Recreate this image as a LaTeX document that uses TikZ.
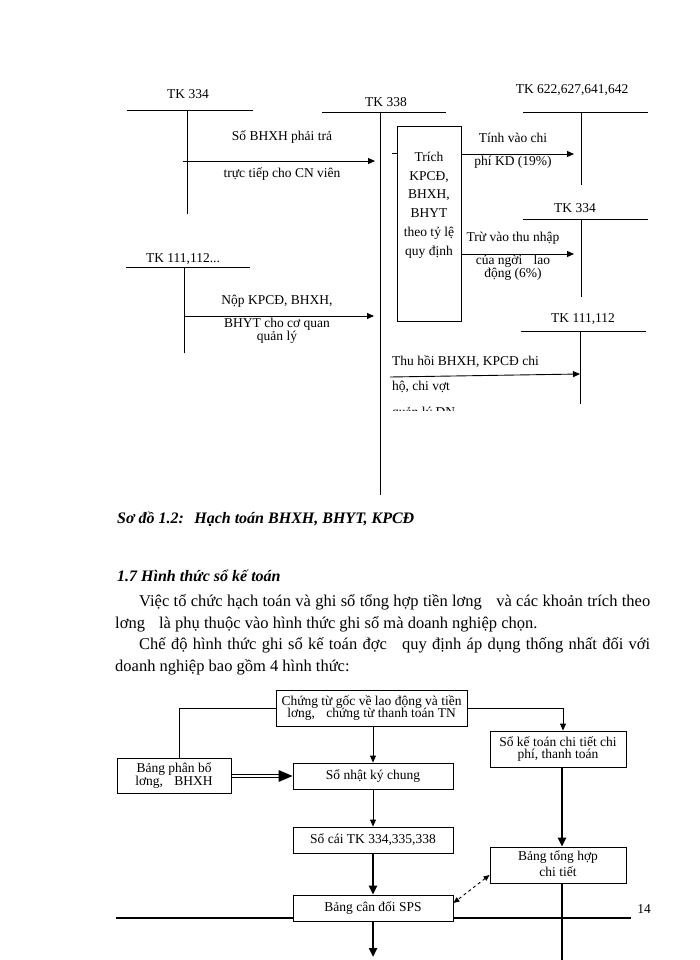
\documentclass[tikz,border=0pt]{standalone}
\usepackage{fontspec}
\setmainfont{Liberation Serif}
\usetikzlibrary{arrows.meta}
\begin{document}
\begin{tikzpicture}[x=1pt,y=-1pt,
  ln/.style={line width=0.9pt},
  tln/.style={line width=2.4pt},
  arr/.style={line width=0.9pt,-{Triangle[length=7pt,width=6pt]}},
  tarr/.style={line width=2.4pt,-{Triangle[length=9pt,width=8pt]}},
  lbl/.style={font=\fontsize{13.5}{12.5}\selectfont, inner sep=0pt, align=center},
  box/.style={draw, line width=0.9pt, fill=white, inner sep=0pt, align=center,
     font=\fontsize{13.5}{12.8}\selectfont},
  body/.style={font=\fontsize{16.5}{20}\selectfont, inner sep=0pt, anchor=base west},
  head/.style={font=\fontsize{16}{20}\selectfont\bfseries\itshape, inner sep=0pt, anchor=base west}
]
\useasboundingbox (0,0) rectangle (700,960);
\fill[white] (0,0) rectangle (700,960);

% ---------------- top diagram ----------------
% TK 334 (left)
\node[lbl] (tka) at (188,94) {TK 334};
\coordinate (a1) at (127,110); \coordinate (a2) at (253,110);
\coordinate (a3) at (187,110); \coordinate (a4) at (187,214);
\draw[ln] (a1) -- (a2); \draw[ln] (a3) -- (a4);
\coordinate (a5) at (183,161); \coordinate (a6) at (375,161);
\draw[arr] (a5) -- (a6);
\node[lbl] (la1) at (282,137) {Số BHXH phải trả};
\node[lbl] (la2) at (282,174) {trực tiếp cho CN viên};

% TK 111,112... (left)
\node[lbl] (tkb) at (183,259) {TK 111,112...};
\coordinate (b1) at (126,267); \coordinate (b2) at (250,267);
\coordinate (b3) at (184,267); \coordinate (b4) at (184,353);
\draw[ln] (b1) -- (b2); \draw[ln] (b3) -- (b4);
\coordinate (b5) at (184,316); \coordinate (b6) at (374,316);
\draw[arr] (b5) -- (b6);
\node[lbl] (lb1) at (277,301) {Nộp KPCĐ, BHXH,};
\node[lbl] (lb2) at (277,331) {BHYT cho cơ quan\\quản lý};

% TK 338
\node[lbl] (tkc) at (386,102) {TK 338};
\coordinate (c1) at (322,112); \coordinate (c2) at (446,112);
\coordinate (c3) at (380,112); \coordinate (c4) at (380,495);
\draw[ln] (c1) -- (c2); \draw[ln] (c3) -- (c4);

% box Trich
\node[draw, line width=0.9pt, minimum width=64pt, minimum height=195pt, inner sep=0pt] (trich) at (429,223.5) {};
\node[lbl, font=\fontsize{13.5}{18.8}\selectfont] (trichtxt) at (429,205) {Trích\\KPCĐ,\\BHXH,\\BHYT\\theo tỷ lệ\\quy định};
\coordinate (st1) at (392,153);
\draw[ln] (st1) -- (st1 -| trich.west);

% TK 622...
\node[lbl] (tkd) at (572,90) {TK 622,627,641,642};
\coordinate (d1) at (523,112); \coordinate (d2) at (648,112);
\coordinate (d3) at (581,112); \coordinate (d4) at (581,185);
\draw[ln] (d1) -- (d2); \draw[ln] (d3) -- (d4);
\coordinate (d6) at (574,154);
\draw[arr] (d6 -| trich.east) -- (d6);
\node[lbl] (ld1) at (513,138) {Tính vào chi};
\node[lbl] (ld2) at (513,162) {phí KD (19\%)};

% TK 334 (right)
\node[lbl] (tke) at (575,208) {TK 334};
\coordinate (e1) at (523,219); \coordinate (e2) at (648,219);
\coordinate (e3) at (581,219); \coordinate (e4) at (581,297);
\draw[ln] (e1) -- (e2); \draw[ln] (e3) -- (e4);
\coordinate (e6) at (574,254);
\draw[arr] (e6 -| trich.east) -- (e6);
\node[lbl] (le1) at (513,238) {Trừ vào thu nhập};
\node[lbl] (le2) at (513,268) {của ngời\hspace{8pt} lao\\động (6\%)};

% TK 111,112 (right)
\node[lbl] (tkf) at (583,319) {TK 111,112};
\coordinate (f1) at (521,331); \coordinate (f2) at (646,331);
\coordinate (f3) at (580,331); \coordinate (f4) at (580,404);
\draw[ln] (f1) -- (f2); \draw[ln] (f3) -- (f4);
\coordinate (f5) at (390,377); \coordinate (f6) at (580,374);
\draw[arr] (f5) -- (f6);
\node[lbl, anchor=west] (lf1) at (392,362) {Thu hồi BHXH, KPCĐ chi};
\node[lbl, anchor=west] (lf2) at (392,387) {hộ, chi vợt};
\begin{scope}
\clip (385,395) rectangle (560,410.5);
\node[lbl, anchor=base west] (lf3) at (392,416) {quản lý DN};
\end{scope}

% ---------------- text ----------------
\node[head] (cap) at (117,523) {Sơ đồ 1.2:\hspace{5pt} Hạch toán BHXH, BHYT, KPCĐ};
\node[head] (h17) at (117,581) {1.7 Hình thức sổ kế toán};
\node[body] (p1) at (139,606) {\makebox[511pt][s]{Việc tổ chức hạch toán và ghi sổ tổng hợp tiền lơng\hspace{10pt} và các khoản trích theo}};
\node[body] (p2) at (115,628) {lơng\hspace{10pt} là phụ thuộc vào hình thức ghi sổ mà doanh nghiệp chọn.};
\node[body] (p3) at (139,649) {\makebox[511pt][s]{Chế độ hình thức ghi sổ kế toán đợc\hspace{10pt} quy định áp dụng thống nhất đối với}};
\node[body] (p4) at (115,671) {doanh nghiệp bao gồm 4 hình thức:};

% ---------------- bottom diagram ----------------
\coordinate (hl1) at (116,918); \coordinate (hl2) at (631,918);
\draw[line width=2pt] (hl1) -- (hl2);
\node[inner sep=0pt, font=\fontsize{13.5}{15}\selectfont] (pg) at (644,909) {14};

\node[box, minimum width=191pt, minimum height=36pt] (ctg) at (371.5,708) {Chứng từ gốc về lao động và tiền\\lơng,\hspace{8pt} chứng từ thanh toán TN};
\node[box, minimum width=114pt, minimum height=35pt] (bpb) at (174,775.5) {Bảng phân bổ\\lơng,\hspace{8pt} BHXH};
\node[box, minimum width=160pt, minimum height=26pt] (snk) at (373,776) {\raisebox{3pt}{Sổ nhật ký chung}};
\node[box, minimum width=136pt, minimum height=36pt] (skt) at (558,749) {Sổ kế toán chi tiết chi\\phí, thanh toán};
\node[box, minimum width=160pt, minimum height=26pt] (sc) at (373,840) {\raisebox{3pt}{Sổ cái TK 334,335,338}};
\node[box, minimum width=136pt, minimum height=36pt] (bth) at (558,865) {\raisebox{3pt}{\shortstack{Bảng tổng hợp\\chi tiết}}};
\node[box, minimum width=160pt, minimum height=26pt] (bcd) at (373,908) {\raisebox{3pt}{Bảng cân đối SPS}};

\draw[ln] (ctg.west) -| ([xshift=5pt]bpb.north);
\draw[arr] (ctg.east) -| ([xshift=5pt]skt.north);
\draw[arr] (ctg.south -| snk.north) -- (snk.north);
\draw[arr] (snk.south) -- (sc.north);
\draw[tarr] (sc.south) -- (bcd.north);
\coordinate (bend) at (373,957);
\draw[tarr] (bcd.south) -- (bend);
\draw[tarr] ([xshift=4pt]skt.south) -- ([xshift=4pt]bth.north);
\coordinate (rend) at (562,960);
\draw[tln] ([xshift=4pt]bth.south) -- (rend);
\draw[line width=0.9pt, dashed, {Triangle[length=6pt,width=5pt]}-{Triangle[length=6pt,width=5pt]}]
  ([yshift=-10pt]bth.west) -- ([yshift=5pt]bcd.east);
% double arrow
\draw[line width=0.9pt] ([yshift=1.8pt]bpb.east |- snk.west) -- ([yshift=1.8pt,xshift=-12pt]snk.west);
\draw[line width=0.9pt] ([yshift=-1.8pt]bpb.east |- snk.west) -- ([yshift=-1.8pt,xshift=-12pt]snk.west);
\fill ([xshift=-14pt,yshift=6pt]snk.west) -- (snk.west) -- ([xshift=-14pt,yshift=-6pt]snk.west) -- cycle;
\end{tikzpicture}
\end{document}
